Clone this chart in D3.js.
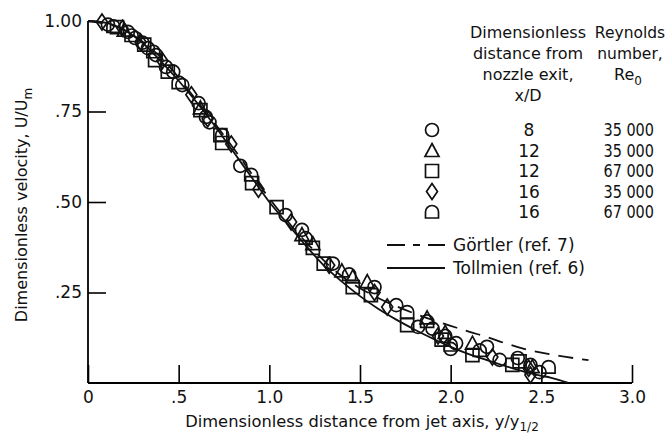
<!DOCTYPE html>
<html lang="en">
<head>
<meta charset="UTF-8">
<title>Jet velocity profile</title>
<style>
  body { margin: 0; background: #fff; }
  svg text { font-family: "DejaVu Sans", "Liberation Sans", sans-serif; fill: #111; }
</style>
</head>
<body>
<div id="chart"></div>
<script src="https://d3js.org/d3.v7.min.js"></script>
<script>
// ---- data ----
var xTicks = [0, 0.5, 1, 1.5, 2, 2.5, 3];
var xTickLabels = ["0", ".5", "1.0", "1.5", "2.0", "2.5", "3.0"];
var yTicks = [0.25, 0.5, 0.75, 1];
var yTickLabels = [".25", ".50", ".75", "1.00"];

var circleX = [0.11, 0.22, 0.26, 0.30, 0.33, 0.375, 0.43, 0.47, 0.52, 0.61, 0.65, 0.67, 0.84, 1.09, 1.18, 1.35, 1.58, 1.70, 1.82, 1.90, 1.97, 2.00, 2.03, 2.20, 2.27, 2.37, 2.44, 2.49];
var circleY = [0.99, 0.97, 0.953, 0.94, 0.925, 0.906, 0.873, 0.86, 0.823, 0.773, 0.735, 0.72, 0.60, 0.464, 0.423, 0.33, 0.265, 0.215, 0.155, 0.15, 0.13, 0.094, 0.11, 0.10, 0.064, 0.069, 0.05, 0.03];

var triangleX = [0.20, 0.62, 1.18, 1.24, 1.40, 1.46, 1.54, 1.87, 1.97, 2.12, 2.45];
var triangleY = [0.975, 0.76, 0.41, 0.385, 0.31, 0.293, 0.28, 0.18, 0.14, 0.11, 0.045];

var squareX = [0.16, 0.31, 0.37, 0.44, 0.62, 0.73, 0.74, 0.905, 1.04, 1.24, 1.30, 1.46, 1.56, 1.76, 1.95, 2.12, 2.34, 2.38];
var squareY = [0.983, 0.935, 0.892, 0.86, 0.754, 0.685, 0.663, 0.552, 0.486, 0.373, 0.33, 0.265, 0.243, 0.16, 0.12, 0.077, 0.05, 0.06];

var diamondX = [0.077, 0.19, 0.29, 0.41, 0.57, 0.66, 0.79, 0.94, 1.12, 1.33, 1.58, 1.65, 1.93, 2.23, 2.43, 2.44];
var diamondY = [0.997, 0.98, 0.942, 0.89, 0.796, 0.73, 0.66, 0.535, 0.445, 0.325, 0.25, 0.21, 0.13, 0.072, 0.041, 0.022];

var domeX = [0.14, 0.24, 0.36, 0.50, 0.74, 0.90, 1.20, 1.44, 1.76, 1.87, 2.00, 2.16, 2.54];
var domeY = [0.985, 0.96, 0.915, 0.83, 0.685, 0.575, 0.40, 0.30, 0.196, 0.17, 0.105, 0.09, 0.044];

var tollmienX = [0, 0.1, 0.2, 0.3, 0.4, 0.5, 0.6, 0.7, 0.8, 0.9, 1.0, 1.1, 1.2, 1.3, 1.4, 1.5, 1.6, 1.7, 1.8, 1.9, 2.0, 2.1, 2.2, 2.3, 2.4, 2.5, 2.55, 2.6, 2.65];
var tollmienY = [1, 0.995, 0.975, 0.94, 0.89, 0.835, 0.775, 0.71, 0.64, 0.57, 0.5, 0.44, 0.38, 0.325, 0.28, 0.24, 0.205, 0.175, 0.148, 0.123, 0.1, 0.08, 0.063, 0.047, 0.032, 0.02, 0.015, 0.008, 0];

var gortlerX = [0, 0.2, 0.4, 0.6, 0.8, 1.0, 1.2, 1.4, 1.5, 1.6, 1.7, 1.8, 1.9, 2.0, 2.1, 2.2, 2.3, 2.4, 2.5, 2.6, 2.76];
var gortlerY = [1, 0.975, 0.9, 0.78, 0.65, 0.51, 0.39, 0.295, 0.262, 0.235, 0.212, 0.192, 0.174, 0.158, 0.142, 0.127, 0.11, 0.095, 0.084, 0.075, 0.063];

var legendSymbols = ["circle", "triangle", "square", "diamond", "dome"];
var legendXD = ["8", "12", "12", "16", "16"];
var legendRe = ["35 000", "35 000", "67 000", "35 000", "67 000"];

// ---- chart ----
var width = 668, height = 436;
var svg = d3.select("#chart").append("svg")
    .attr("width", width)
    .attr("height", height);
svg.append("rect").attr("width", width).attr("height", height).attr("fill", "#fff");

var x = d3.scaleLinear().domain([0, 3]).range([88, 632]);
var y = d3.scaleLinear().domain([0, 1]).range([383, 21]);

// the original lettering is narrower than DejaVu, so squeeze some texts a bit
function squeeze(sel, k) {
    sel.each(function() {
        var w = this.getComputedTextLength();
        d3.select(this).attr("textLength", w * k).attr("lengthAdjust", "spacingAndGlyphs");
    });
}

// axes (ticks point inward, like the original)
var yAxis = svg.append("g")
    .attr("transform", "translate(" + x(0) + ",0)")
    .call(d3.axisLeft(y)
        .tickValues(yTicks)
        .tickSizeInner(-18)
        .tickSizeOuter(0)
        .tickPadding(6)
        .tickFormat(function(d, i) { return yTickLabels[i]; }));
yAxis.select(".domain").attr("d", "M0," + y(0) + "V" + y(1)).attr("stroke-width", 1.8);
yAxis.selectAll(".tick line").attr("stroke-width", 1.6);
yAxis.selectAll(".tick").filter(function(d) { return d === 1; }).select("line").attr("x2", 9);
yAxis.selectAll(".tick text").attr("font-size", 17).attr("font-family", null);

var xAxis = svg.append("g")
    .attr("transform", "translate(0," + y(0) + ")")
    .call(d3.axisBottom(x)
        .tickValues(xTicks)
        .tickSizeInner(-18)
        .tickSizeOuter(0)
        .tickPadding(8)
        .tickFormat(function(d, i) { return xTickLabels[i]; }));
xAxis.select(".domain").attr("d", "M" + x(0) + ",0H" + x(3)).attr("stroke-width", 1.8);
xAxis.selectAll(".tick line").attr("stroke-width", 1.6);
xAxis.selectAll(".tick text").attr("font-size", 17).attr("font-family", null);

// axis titles
var yTitle = svg.append("text")
    .attr("transform", "translate(27,205) rotate(-90)")
    .attr("text-anchor", "middle")
    .attr("font-size", 16);
yTitle.append("tspan").text("Dimensionless velocity,  U/U");
yTitle.append("tspan").attr("dy", 5).attr("font-size", 12).text("m");

var xTitle = svg.append("text")
    .attr("x", 362)
    .attr("y", 427)
    .attr("text-anchor", "middle")
    .attr("font-size", 16.3);
xTitle.append("tspan").text("Dimensionless distance from jet axis,  y/y");
xTitle.append("tspan").attr("dy", 4).attr("font-size", 12).text("1/2");

// theory curves
svg.append("clipPath").attr("id", "plotclip")
    .append("rect").attr("x", x(0)).attr("y", 0).attr("width", x(3) - x(0)).attr("height", y(0));

var line = d3.line()
    .x(function(d) { return x(d[0]); })
    .y(function(d) { return y(d[1]); })
    .curve(d3.curveMonotoneX);

svg.append("path")
    .datum(d3.zip(gortlerX, gortlerY))
    .attr("clip-path", "url(#plotclip)")
    .attr("fill", "none")
    .attr("stroke", "#111")
    .attr("stroke-width", 1.8)
    .attr("stroke-dasharray", "15,9")
    .attr("d", line);

svg.append("path")
    .datum(d3.zip(tollmienX, tollmienY))
    .attr("clip-path", "url(#plotclip)")
    .attr("fill", "none")
    .attr("stroke", "#111")
    .attr("stroke-width", 1.8)
    .attr("d", line);

// marker shapes
function symbolPath(kind) {
    if (kind === "circle") return "M-6.5,0A6.5,6.5 0 1,0 6.5,0A6.5,6.5 0 1,0 -6.5,0Z";
    if (kind === "triangle") return "M0,-7L7,6L-7,6Z";
    if (kind === "square") return "M-6.5,-6.5H6.5V6.5H-6.5Z";
    if (kind === "diamond") return "M0,-8L5.5,0L0,8L-5.5,0Z";
    return "M-6.5,6H6.5V0A6.5,6.5 0 0,0 -6.5,0Z"; // dome
}

var series = [
    { kind: "circle", xs: circleX, ys: circleY },
    { kind: "triangle", xs: triangleX, ys: triangleY },
    { kind: "square", xs: squareX, ys: squareY },
    { kind: "diamond", xs: diamondX, ys: diamondY },
    { kind: "dome", xs: domeX, ys: domeY }
];

series.forEach(function(s) {
    svg.append("g").selectAll("path")
        .data(d3.zip(s.xs, s.ys))
        .enter()
        .append("path")
        .attr("transform", function(d) { return "translate(" + x(d[0]) + "," + y(d[1]) + ")"; })
        .attr("d", symbolPath(s.kind))
        .attr("fill", "none")
        .attr("stroke", "#111")
        .attr("stroke-width", 1.7);
});

// legend
var legend = svg.append("g").attr("font-size", 17);
var col1 = ["Dimensionless", "distance from", "nozzle exit,", "x/D"];
col1.forEach(function(t, i) {
    legend.append("text").attr("x", 528).attr("y", 38 + i * 21).attr("text-anchor", "middle")
        .attr("font-size", 16).text(t);
});
legend.append("text").attr("x", 630).attr("y", 38).attr("text-anchor", "middle")
    .attr("font-size", 15.5).text("Reynolds");
legend.append("text").attr("x", 630).attr("y", 59).attr("text-anchor", "middle")
    .attr("font-size", 15.5).text("number,");
var reHead = legend.append("text").attr("x", 628).attr("y", 80).attr("text-anchor", "middle")
    .attr("font-size", 16);
reHead.append("tspan").text("Re");
reHead.append("tspan").attr("dy", 5).attr("font-size", 12).text("0");

legendSymbols.forEach(function(k, i) {
    var ry = 130 + i * 20.5;
    legend.append("path")
        .attr("transform", "translate(432," + ry + ")")
        .attr("d", symbolPath(k))
        .attr("fill", "none")
        .attr("stroke", "#111")
        .attr("stroke-width", 1.7);
    legend.append("text").attr("x", 529).attr("y", ry + 6).attr("text-anchor", "middle").text(legendXD[i]);
    legend.append("text").attr("x", 654).attr("y", ry + 6).attr("text-anchor", "end").text(legendRe[i])
        .call(squeeze, 0.85);
});

legend.append("line")
    .attr("x1", 387).attr("x2", 445).attr("y1", 245).attr("y2", 245)
    .attr("stroke", "#111").attr("stroke-width", 1.8).attr("stroke-dasharray", "18,8,7,8,17");
legend.append("text").attr("x", 453).attr("y", 251).text("G\u00f6rtler (ref. 7)");
legend.append("line")
    .attr("x1", 387).attr("x2", 445).attr("y1", 268).attr("y2", 268)
    .attr("stroke", "#111").attr("stroke-width", 1.8);
legend.append("text").attr("x", 453).attr("y", 274).text("Tollmien (ref. 6)");
</script>
</body>
</html>
